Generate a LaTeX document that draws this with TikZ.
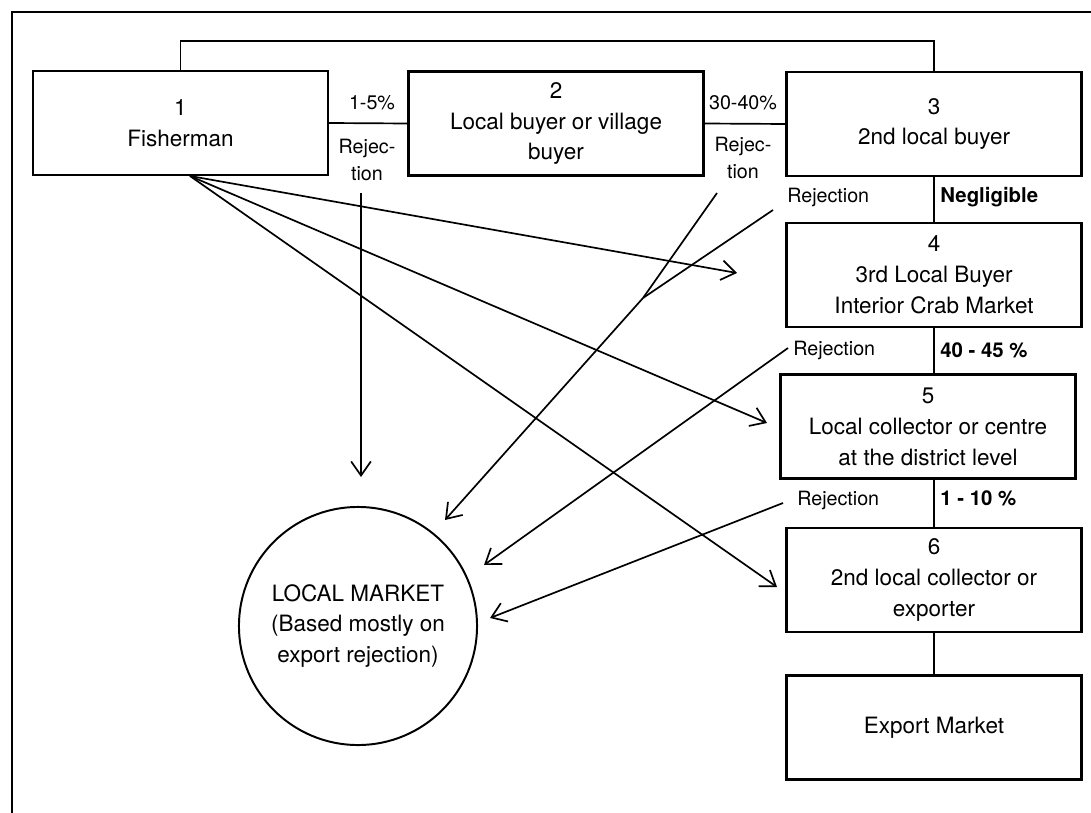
\documentclass[tikz,border=0pt]{standalone}
\usepackage{fontspec}
\setmainfont{TeX Gyre Heros}
\usetikzlibrary{arrows.meta}
\usetikzlibrary{positioning}
\tikzset{
box/.style = {rectangle, draw = black, line width = 1.5pt, align = center, minimum width = 7.375cm, minimum height = 2.6cm, inner sep = 0pt, font = \fontsize{16}{22}\selectfont},
lbl/.style = {inner sep = 0pt, align = center, font = \fontsize{14}{19}\selectfont},
pct/.style = {inner sep = 0pt, font = \bfseries\fontsize{14.5}{18}\selectfont},
link/.style = {draw = black, line width = 1.2pt},
flow/.style = {draw = black, line width = 1.2pt, -{Straight Barb[length = 10pt, width = 14pt, line width = 1.2pt]}},
}

\begin{document}
\begin{tikzpicture}[x = 0.025cm, y = -0.025cm]
    \useasboundingbox (0, 0) rectangle (1091, 813);
    \draw[line width = 1.6pt] (12, 813) -- (12, 12) -- (1091, 12);
    % buyers along the chain
    \node[box] (b1) at (180.5, 123) {1\\Fisherman};
    \node[box] (b2) at (556, 123.5) {2\\Local buyer or village\\buyer};
    \node[box] (b3) at (934, 124) {3\\2nd local buyer};
    \node[box] (b4) at (934, 275) {4\\3rd Local Buyer\\Interior Crab Market};
    \node[box] (b5) at (928, 426.5) {5\\Local collector or centre\\at the district level};
    \node[box] (b6) at (934, 580) {6\\2nd local collector or\\exporter};
    \node[box] (export) at (934, 727.5) {Export Market};
    \node[circle, draw = black, line width = 1.4pt, minimum size = 5.95cm, inner sep = 0pt, align = center, font = \fontsize{16}{22}\selectfont] (local) at (358, 626) {LOCAL MARKET\\(Based mostly on\\export rejection)};
    % labels on the links
    \node[lbl] (p12) at (372, 103) {1-5\%};
    \node[lbl] (r12) at (367, 160) {Rejec-\\tion};
    \node[lbl] (p23) at (743, 103) {30-40\%};
    \node[lbl] (r23) at (743, 158) {Rejec-\\tion};
    \node[lbl, anchor = west] (r34) at (787, 197) {Rejection};
    \node[pct, anchor = west] (p34) at (940, 197) {Negligible};
    \node[lbl, anchor = west] (r45) at (793, 350) {Rejection};
    \node[pct, anchor = west] (p45) at (940, 350) {40 - 45 \%};
    \node[lbl, anchor = west] (r56) at (797, 500) {Rejection};
    \node[pct, anchor = west] (p56) at (940, 498) {1 - 10 \%};
    % links
    \draw[link] (b1.north) -- (b1.north |- 0, 41) -| (b3.north);
    \draw[link] (b1.east) -- (b2.west);
    \draw[link] (b2.east) -- (b3.west);
    \draw[link] (b3.south) -- (b4.north);
    \draw[link] (b4.south) -- (b4.south |- b5.north);
    \draw[link] (b4.south |- b5.south) -- (b6.north);
    \draw[link] (b6.south) -- (export.north);
    % free ends
    \coordinate (fish) at (190, 176);
    \coordinate (t4) at (737, 273);
    \coordinate (t5) at (767, 423);
    \coordinate (t6) at (777, 587);
    \coordinate (s12) at (361, 193);
    \coordinate (t12) at (361, 477);
    \coordinate (s23) at (717, 193);
    \coordinate (s34) at (773, 210);
    \coordinate (merge) at (643, 298);
    \coordinate (tmerge) at (445, 520);
    \coordinate (s45) at (788, 348);
    \coordinate (t45) at (484, 565);
    \coordinate (s56) at (783, 503);
    \coordinate (t56) at (490, 618);
    % direct sales of the fisherman
    \draw[flow] (fish) -- (t4);
    \draw[flow] (fish) -- (t5);
    \draw[flow] (fish) -- (t6);
    % rejections to the local market
    \draw[flow] (s12) -- (t12);
    \draw[link] (s23) -- (merge);
    \draw[link] (s34) -- (merge);
    \draw[flow] (merge) -- (tmerge);
    \draw[flow] (s45) -- (t45);
    \draw[flow] (s56) -- (t56);
\end{tikzpicture}
\end{document}
